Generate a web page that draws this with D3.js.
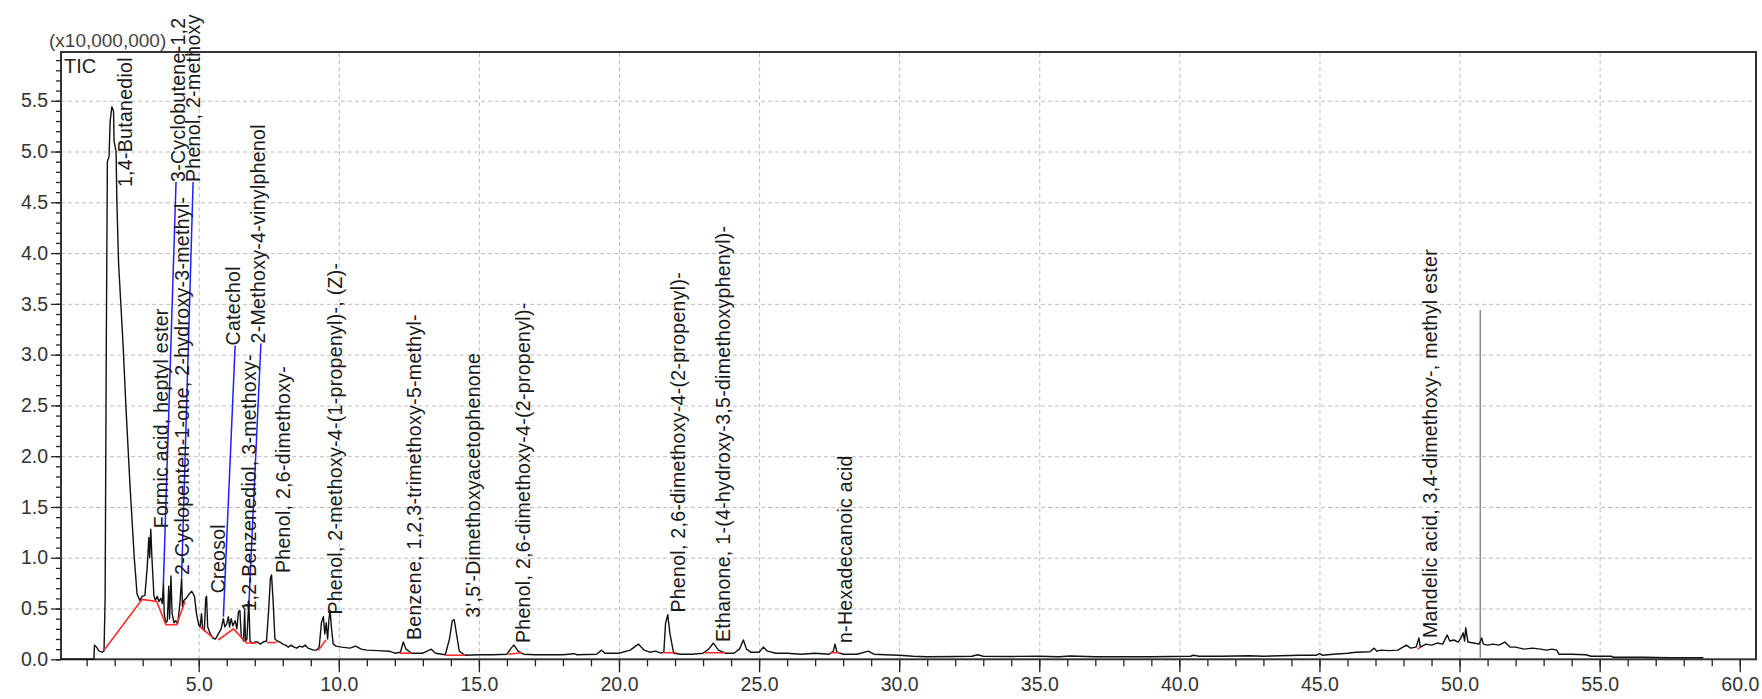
<!DOCTYPE html>
<html>
<head>
<meta charset="utf-8">
<script src="https://cdn.jsdelivr.net/npm/d3@7"></script>
<style>
  body { margin: 0; background: #fff; }
  text { font-family: "Liberation Sans", Arial, sans-serif; }
</style>
</head>
<body>
<script>
// TIC trace: [retention time (min), intensity (x10,000,000)]
const tic = [
  [0.1, 0.0], [1.26, 0.0], [1.28, 0.14], [1.35, 0.12], [1.45, 0.08], [1.55, 0.07], [1.62, 0.08],
  [1.66, 0.6], [1.70, 3.0], [1.74, 4.9], [1.80, 4.95], [1.84, 5.3], [1.90, 5.44], [1.96, 5.40],
  [1.98, 5.1], [2.05, 5.0], [2.08, 4.5], [2.14, 3.9], [2.30, 3.1], [2.40, 2.5], [2.55, 1.7],
  [2.70, 1.0], [2.80, 0.64], [2.90, 0.58], [2.98, 0.62], [3.08, 0.63], [3.16, 0.9], [3.22, 1.2],
  [3.25, 1.0], [3.29, 1.28], [3.33, 1.0], [3.40, 0.63], [3.45, 0.58], [3.52, 0.62], [3.58, 0.57],
  [3.65, 0.6], [3.70, 0.55], [3.74, 0.75], [3.77, 0.45], [3.82, 0.36], [3.88, 0.38], [3.93, 0.72],
  [3.96, 0.4], [4.01, 0.82], [4.05, 0.45], [4.12, 0.36], [4.18, 0.38], [4.25, 0.35], [4.33, 0.55],
  [4.39, 0.8], [4.42, 0.52], [4.47, 0.58], [4.55, 0.6], [4.65, 0.64], [4.75, 0.67], [4.85, 0.62],
  [4.92, 0.45], [5.0, 0.34], [5.05, 0.32], [5.1, 0.45], [5.14, 0.3], [5.2, 0.28], [5.25, 0.6],
  [5.28, 0.62], [5.32, 0.32], [5.4, 0.26], [5.5, 0.21], [5.6, 0.2], [5.7, 0.25], [5.8, 0.3],
  [5.88, 0.4], [5.93, 0.32], [6.0, 0.35], [6.06, 0.42], [6.1, 0.32], [6.16, 0.4], [6.22, 0.33],
  [6.3, 0.38], [6.36, 0.3], [6.42, 0.47], [6.47, 0.48], [6.52, 0.22], [6.6, 0.18], [6.64, 0.48],
  [6.67, 0.18], [6.72, 0.2], [6.79, 0.58], [6.83, 0.18], [6.9, 0.16], [7.0, 0.17], [7.1, 0.17],
  [7.2, 0.15], [7.3, 0.17], [7.42, 0.18], [7.5, 0.5], [7.56, 0.8], [7.6, 0.83], [7.66, 0.55],
  [7.72, 0.2], [7.8, 0.18], [7.9, 0.17], [8.0, 0.15], [8.1, 0.14], [8.2, 0.12], [8.3, 0.14],
  [8.4, 0.12], [8.5, 0.11], [8.6, 0.13], [8.7, 0.12], [8.8, 0.14], [8.9, 0.11], [9.0, 0.10],
  [9.1, 0.09], [9.2, 0.09], [9.3, 0.12], [9.38, 0.36], [9.45, 0.42], [9.5, 0.25], [9.55, 0.36],
  [9.6, 0.2], [9.65, 0.4], [9.69, 0.48], [9.74, 0.3], [9.8, 0.15], [9.9, 0.13], [10.1, 0.12],
  [10.4, 0.11], [10.6, 0.13], [10.8, 0.1], [11.0, 0.09], [11.4, 0.085], [11.8, 0.08], [12.0, 0.06],
  [12.2, 0.07], [12.3, 0.17], [12.4, 0.1], [12.6, 0.06], [13.0, 0.06], [13.3, 0.1], [13.45, 0.06],
  [13.8, 0.045], [13.95, 0.2], [14.05, 0.38], [14.12, 0.39], [14.2, 0.25], [14.3, 0.08], [14.5, 0.04],
  [15.0, 0.045], [15.5, 0.045], [16.0, 0.05], [16.15, 0.11], [16.25, 0.14], [16.4, 0.08], [16.6, 0.05],
  [17.0, 0.045], [18.0, 0.045], [18.4, 0.055], [18.5, 0.045], [19.2, 0.05], [19.38, 0.09], [19.5, 0.06],
  [20.0, 0.06], [20.4, 0.09], [20.69, 0.15], [20.9, 0.09], [21.1, 0.07], [21.3, 0.08], [21.5, 0.06],
  [21.6, 0.07], [21.66, 0.35], [21.74, 0.44], [21.82, 0.25], [21.95, 0.06], [22.2, 0.05], [22.6, 0.05],
  [23.0, 0.06], [23.2, 0.1], [23.37, 0.16], [23.55, 0.09], [23.8, 0.06], [24.1, 0.06], [24.3, 0.1],
  [24.44, 0.19], [24.55, 0.1], [24.7, 0.07], [25.0, 0.07], [25.15, 0.12], [25.3, 0.08], [25.6, 0.06],
  [26.0, 0.06], [26.5, 0.05], [27.0, 0.06], [27.5, 0.05], [27.65, 0.08], [27.71, 0.15], [27.78, 0.07],
  [28.0, 0.05], [28.5, 0.05], [28.9, 0.08], [29.1, 0.05], [29.5, 0.045], [30.0, 0.04], [30.5, 0.03],
  [31.0, 0.025], [32.0, 0.028], [32.6, 0.03], [32.8, 0.045], [33.0, 0.03], [34.0, 0.028], [35.0, 0.03],
  [35.7, 0.025], [36.1, 0.032], [37.0, 0.025], [38.0, 0.025], [39.0, 0.025], [40.4, 0.03], [40.5, 0.04],
  [40.7, 0.03], [41.5, 0.03], [42.5, 0.035], [43.0, 0.03], [43.6, 0.035], [44.3, 0.04], [44.9, 0.04],
  [45.0, 0.055], [45.1, 0.04], [45.5, 0.05], [46.0, 0.06], [46.3, 0.07], [46.8, 0.075], [46.95, 0.11],
  [47.05, 0.08], [47.2, 0.09], [47.5, 0.085], [47.8, 0.09], [48.1, 0.14], [48.25, 0.11], [48.45, 0.12],
  [48.55, 0.21], [48.6, 0.12], [48.8, 0.15], [49.0, 0.14], [49.2, 0.16], [49.4, 0.15], [49.56, 0.24],
  [49.65, 0.18], [49.8, 0.19], [49.95, 0.17], [50.05, 0.21], [50.13, 0.26], [50.18, 0.18], [50.22, 0.31],
  [50.3, 0.17], [50.5, 0.16], [50.7, 0.15], [50.79, 0.21], [50.85, 0.15], [51.0, 0.14], [51.2, 0.15],
  [51.4, 0.14], [51.62, 0.17], [51.8, 0.12], [52.0, 0.12], [52.3, 0.1], [52.6, 0.11], [52.9, 0.1],
  [53.1, 0.09], [53.3, 0.1], [53.47, 0.09], [53.55, 0.05], [54.0, 0.05], [54.5, 0.045], [54.7, 0.03],
  [55.4, 0.03], [55.5, 0.02], [56.5, 0.02], [57.5, 0.015], [58.7, 0.015]
];

// integration baselines (red)
const baselines = [
  [[1.62, 0.09], [2.98, 0.59], [3.5, 0.57], [3.83, 0.34], [4.21, 0.34], [4.51, 0.57]],
  [[5.05, 0.32], [5.52, 0.21]],
  [[5.70, 0.19], [6.24, 0.30], [6.71, 0.16], [7.07, 0.16]],
  [[7.43, 0.165], [7.78, 0.165]],
  [[9.27, 0.09], [9.54, 0.19]],
  [[12.18, 0.06], [12.6, 0.06]],
  [[13.8, 0.04], [14.5, 0.04]],
  [[16.05, 0.05], [16.53, 0.065]],
  [[21.56, 0.065], [22.06, 0.065]],
  [[23.07, 0.065], [23.78, 0.065]],
  [[27.55, 0.065], [27.89, 0.065]],
  [[48.5, 0.10], [48.6, 0.12]]
];

// peak labels
const labelNames = [
  "1,4-Butanediol",
  "Formic acid, heptyl ester",
  "2-Cyclopenten-1-one, 2-hydroxy-3-methyl-",
  "3-Cyclobutene-1,2",
  "Phenol, 2-methoxy",
  "Creosol",
  "Catechol",
  "1,2-Benzenediol, 3-methoxy-",
  "2-Methoxy-4-vinylphenol",
  "Phenol, 2,6-dimethoxy-",
  "Phenol, 2-methoxy-4-(1-propenyl)-, (Z)-",
  "Benzene, 1,2,3-trimethoxy-5-methyl-",
  "3',5'-Dimethoxyacetophenone",
  "Phenol, 2,6-dimethoxy-4-(2-propenyl)-",
  "Phenol, 2,6-dimethoxy-4-(2-propenyl)-",
  "Ethanone, 1-(4-hydroxy-3,5-dimethoxyphenyl)-",
  "n-Hexadecanoic acid",
  "Mandelic acid, 3,4-dimethoxy-, methyl ester"
];
const labelRt  = [2.61, 3.92, 4.64, 4.51, 5.06, 5.94, 6.49, 7.06, 7.37, 8.26, 10.11, 12.95, 15.04, 16.82, 22.36, 23.96, 28.32, 49.19];
const labelTop = [4.65, 1.29, 0.83, 4.70, 4.70, 0.65, 3.09, 0.47, 3.11, 0.85, 0.44, 0.19, 0.41, 0.16, 0.46, 0.17, 0.16, 0.21];

// leader lines (blue): peak apex -> label start
const leaders = [
  [[3.74, 0.75], [4.19, 4.70]],
  [[4.39, 0.81], [4.80, 4.70]],
  [[5.88, 0.42], [6.30, 3.09]],
  [[6.79, 0.54], [7.22, 3.11]]
];
const markerPoint = [6.77, 0.535];
const cursorRt = 50.74, cursorTop = 3.44;

const xTickLabels = [5, 10, 15, 20, 25, 30, 35, 40, 45, 50, 55, 60];
const yTickLabels = [0, 0.5, 1, 1.5, 2, 2.5, 3, 3.5, 4, 4.5, 5, 5.5];

const width = 1762, height = 699;
const x = d3.scaleLinear().domain([0.085, 60.58]).range([61, 1756]);
const y = d3.scaleLinear().domain([0, 5.98]).range([659.3, 52]);

const svg = d3.select("body").append("svg")
  .attr("width", width)
  .attr("height", height)
  .attr("viewBox", [0, 0, width, height]);

// grid
svg.append("g")
  .attr("transform", `translate(0,${y(0)})`)
  .call(d3.axisBottom(x).tickValues(xTickLabels.slice(0, -1)).tickSize(-(y(0) - y(5.98))).tickFormat(""))
  .call(g => g.select(".domain").remove())
  .call(g => g.selectAll("line").attr("stroke", "#bdbdbd").attr("stroke-dasharray", "4,3"));
svg.append("g")
  .attr("transform", `translate(${x.range()[0]},0)`)
  .call(d3.axisLeft(y).tickValues(yTickLabels.slice(1)).tickSize(-(x.range()[1] - x.range()[0])).tickFormat(""))
  .call(g => g.select(".domain").remove())
  .call(g => g.selectAll("line").attr("stroke", "#bdbdbd").attr("stroke-dasharray", "4,3"));

// minor ticks
svg.append("g")
  .attr("transform", `translate(0,${y(0)})`)
  .call(d3.axisBottom(x).tickValues(d3.range(1, 61)).tickSize(7).tickFormat("").tickSizeOuter(0))
  .call(g => g.select(".domain").remove())
  .call(g => g.selectAll("line").attr("stroke", "#222").attr("stroke-width", 1.3));
svg.append("g")
  .attr("transform", `translate(${x.range()[0]},0)`)
  .call(d3.axisLeft(y).tickValues(d3.range(0, 60).map(i => i / 10)).tickSize(5).tickFormat("").tickSizeOuter(0))
  .call(g => g.select(".domain").remove())
  .call(g => g.selectAll("line").attr("stroke", "#222").attr("stroke-width", 1.3));

// major axes
svg.append("g")
  .attr("transform", `translate(0,${y(0)})`)
  .call(d3.axisBottom(x).tickValues(xTickLabels).tickSize(13).tickPadding(5).tickFormat(d3.format(".1f")).tickSizeOuter(0))
  .call(g => g.select(".domain").remove())
  .call(g => g.selectAll("line").attr("stroke", "#222").attr("stroke-width", 1.3))
  .call(g => g.selectAll("text").attr("font-size", 19.5).attr("fill", "#333")
    .style("font-family", "'Liberation Sans', Arial, sans-serif"));
svg.append("g")
  .attr("transform", `translate(${x.range()[0]},0)`)
  .call(d3.axisLeft(y).tickValues(yTickLabels).tickSize(10).tickPadding(3).tickFormat(d3.format(".1f")).tickSizeOuter(0))
  .call(g => g.select(".domain").remove())
  .call(g => g.selectAll("line").attr("stroke", "#222").attr("stroke-width", 1.3))
  .call(g => g.selectAll("text").attr("font-size", 19.5).attr("fill", "#333")
    .style("font-family", "'Liberation Sans', Arial, sans-serif"));

// frame
svg.append("rect")
  .attr("x", x.range()[0]).attr("y", y.range()[1])
  .attr("width", x.range()[1] - x.range()[0])
  .attr("height", y(0) - y.range()[1])
  .attr("fill", "none").attr("stroke", "#333").attr("stroke-width", 2);

// cursor line
svg.append("line")
  .attr("x1", x(cursorRt)).attr("x2", x(cursorRt))
  .attr("y1", y(cursorTop)).attr("y2", y(0))
  .attr("stroke", "#8c8c8c").attr("stroke-width", 1.5);

const line = d3.line().x(d => x(d[0])).y(d => y(d[1]));

// trace
svg.append("path")
  .datum(tic)
  .attr("fill", "none")
  .attr("stroke", "#111")
  .attr("stroke-width", 1.4)
  .attr("stroke-linejoin", "round")
  .attr("d", line);

// baselines
svg.append("g")
  .selectAll("path")
  .data(baselines)
  .join("path")
  .attr("fill", "none")
  .attr("stroke", "#ff2a2a")
  .attr("stroke-width", 1.6)
  .attr("d", line);

// leaders
svg.append("g")
  .selectAll("path")
  .data(leaders)
  .join("path")
  .attr("fill", "none")
  .attr("stroke", "#2020ff")
  .attr("stroke-width", 1.5)
  .attr("d", line);

svg.append("path")
  .attr("transform", `translate(${x(markerPoint[0])},${y(markerPoint[1])})`)
  .attr("d", "M-4,0H4M0,-4V4")
  .attr("stroke", "#111").attr("stroke-width", 1.5);

// peak labels
svg.append("g")
  .attr("font-size", 19.5)
  .attr("letter-spacing", 0.3)
  .attr("fill", "#1a1a1a")
  .selectAll("text")
  .data(labelNames)
  .join("text")
  .attr("transform", (d, i) => `translate(${x(labelRt[i])},${y(labelTop[i])}) rotate(-90)`)
  .text(d => d);

svg.append("text")
  .attr("x", 49).attr("y", 46.5)
  .attr("font-size", 19).attr("fill", "#444")
  .text("(x10,000,000)");
svg.append("text")
  .attr("x", 64).attr("y", 72.5)
  .attr("font-size", 20).attr("fill", "#222")
  .text("TIC");
</script>
</body>
</html>
